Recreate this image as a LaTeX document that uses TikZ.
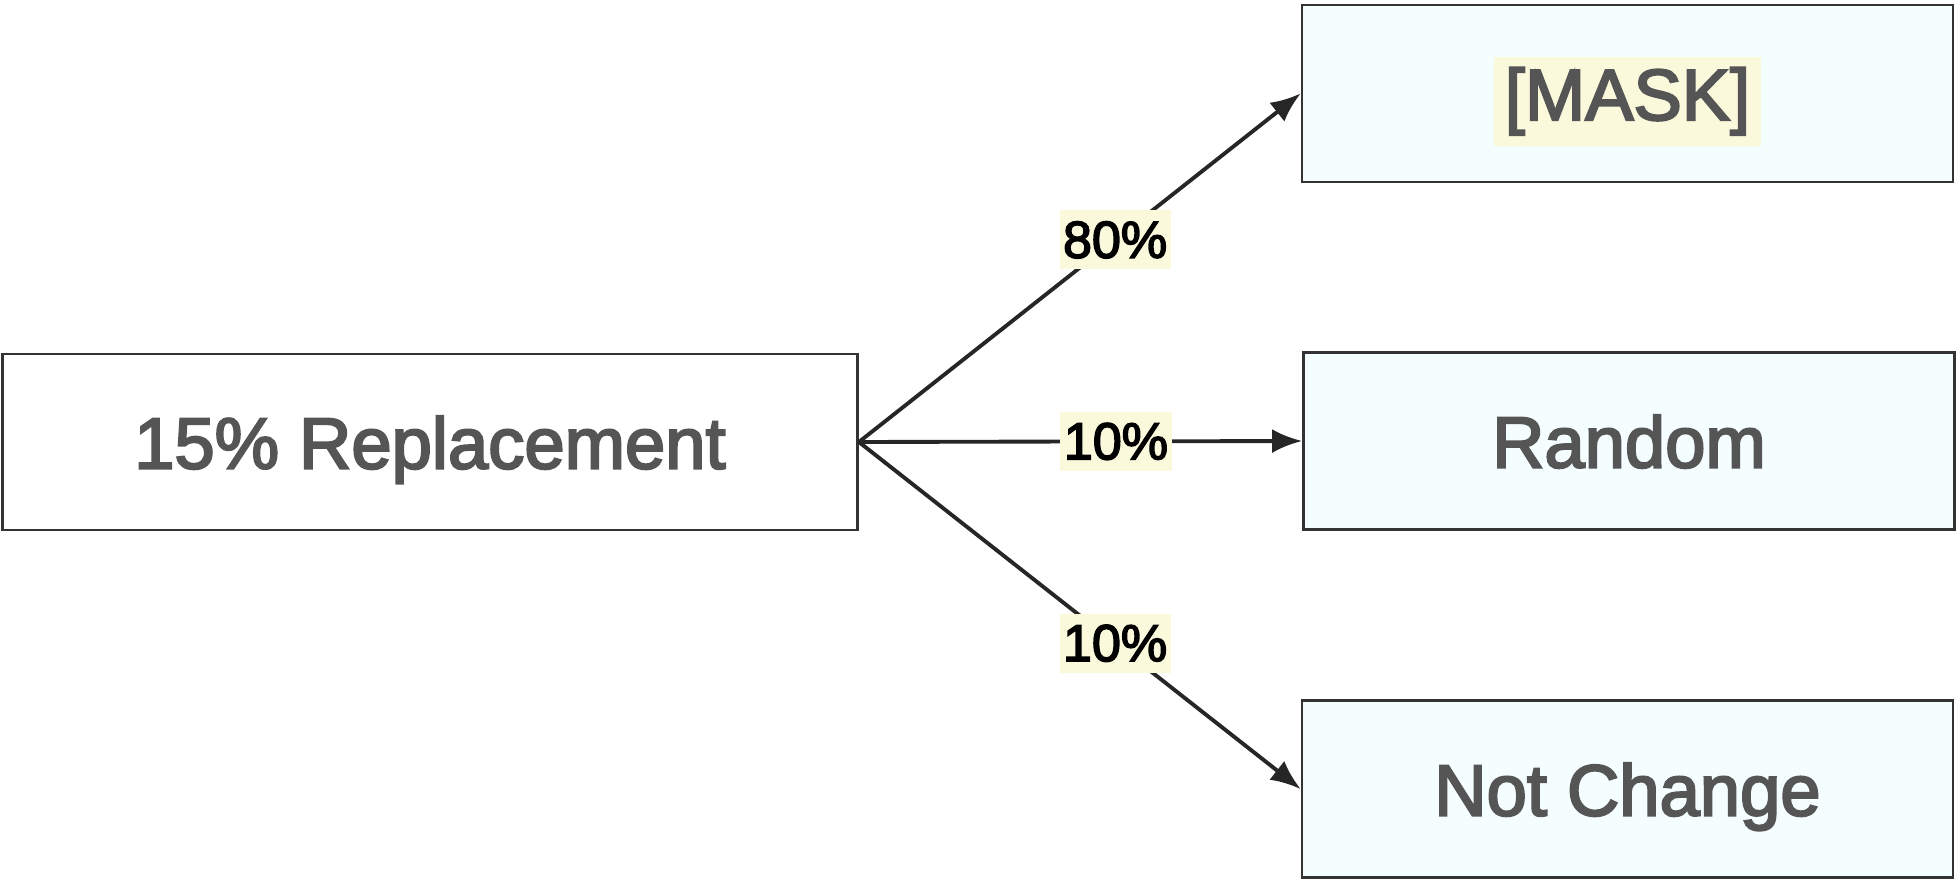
\documentclass[tikz,border=0pt]{standalone}
\usepackage{fontspec}
\setmainfont{Liberation Sans}
\newfontfamily\boxfont{Liberation Sans}[FakeBold=3]
\usetikzlibrary{arrows.meta}
\definecolor{boxline}{HTML}{333333}
\definecolor{boxtext}{HTML}{555555}
\definecolor{leaffill}{HTML}{F5FEFF}
\definecolor{labelbg}{HTML}{FAF9DC}
\begin{document}
\begin{tikzpicture}[
            every node/.style = {font=\boxfont\fontsize{20.6}{25}\selectfont, text=boxtext},
            srcbox/.style = {draw=boxline, line width=0.8pt, fill=white, minimum width=8.55cm, minimum height=1.76cm, text height=19.4pt, text depth=4.3pt},
            leafbox/.style = {draw=boxline, line width=0.8pt, fill=leaffill, minimum width=6.51cm, minimum height=1.77cm, text height=19.4pt, text depth=4.3pt},
            pct/.style = {fill=labelbg, text=black, font=\boxfont\fontsize{14.8}{18}\selectfont, inner xsep=1pt, inner ysep=0pt, minimum height=0.59cm, pos=0.58},
            branch/.style = {draw=black!85, line width=1.1pt, -{Latex[length=3mm,width=2.4mm]}}
        ]
        \useasboundingbox (0,0) rectangle (19.57,8.8);

        % source and the three outcomes
        \node[srcbox] (repl) at (4.30,4.38) {15\% Replacement};
        \node[leafbox] (mask) at (16.275,7.865) {\setlength{\fboxsep}{3pt}\colorbox{labelbg}{[MASK]}};
        \node[leafbox] (rand) at (16.29,4.39) {Random};
        \node[leafbox] (keep) at (16.275,0.91) {Not Change};

        % branches
        \draw[branch] (repl.east) -- (mask.west) node[pct] {80\%};
        \draw[branch] (repl.east) -- (rand.west) node[pct] {10\%};
        \draw[branch] (repl.east) -- (keep.west) node[pct] {10\%};
    \end{tikzpicture}
\end{document}
